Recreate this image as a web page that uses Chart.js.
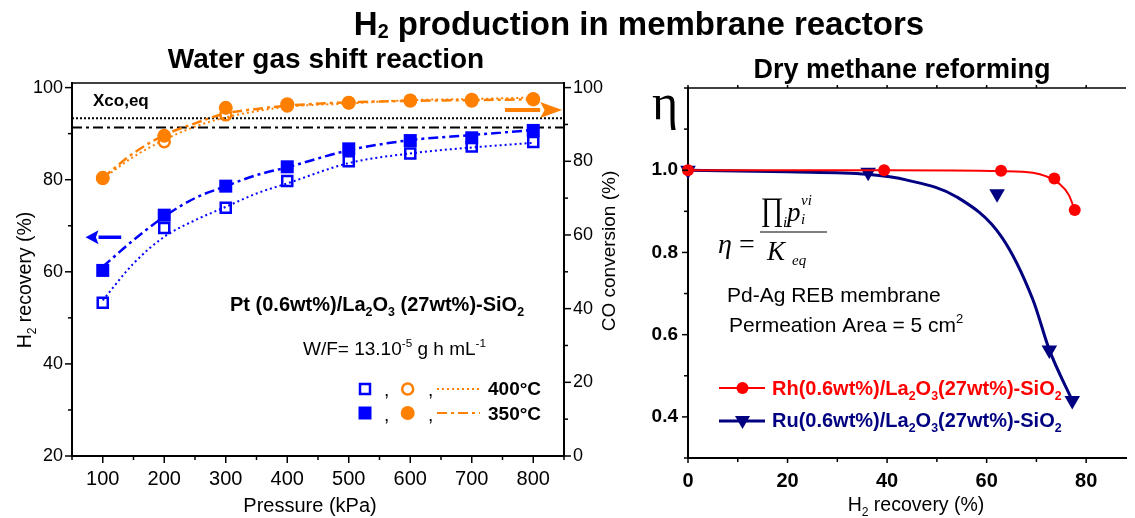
<!DOCTYPE html>
<html>
<head>
<meta charset="utf-8">
<title>H2 production in membrane reactors</title>
<script src="https://cdn.jsdelivr.net/npm/chart.js@4.4.1/dist/chart.umd.min.js"></script>
<style>
  html, body { margin: 0; padding: 0; background: #fff; }
  #page { position: relative; width: 1135px; height: 518px; overflow: hidden; }
  #mainTitle {
    position: absolute; left: 639px; top: 5px; transform: translateX(-50%);
    white-space: nowrap; line-height: 36px;
    font: bold 33px "Liberation Sans", Arial, sans-serif; color: #000;
  }
  #mainTitle sub { font-size: 0.6em; vertical-align: -0.15em; }
  canvas { position: absolute; top: 0; }
  #wgsChart { left: 0; }
  #drmChart { left: 620px; }
</style>
</head>
<body>
<div id="page">
  <canvas id="wgsChart" width="620" height="518"></canvas>
  <canvas id="drmChart" width="515" height="518"></canvas>
  <div id="mainTitle">H<sub>2</sub> production in membrane reactors</div>
</div>
<script>
// ---- Water gas shift: measured points ----
const pressure = [100, 200, 300, 400, 500, 600, 700, 800];
const recovery400 = [53.3, 69.5, 73.9, 79.7, 84.0, 85.7, 87.2, 88.2];
const recovery350 = [60.3, 72.3, 78.6, 82.8, 86.7, 88.5, 89.1, 90.7];
const conversion400 = [75.3, 85.3, 92.6, 95.0, 95.9, 96.6, 96.8, 97.0];
const conversion350 = [75.5, 86.9, 94.5, 95.5, 95.9, 96.4, 96.4, 96.8];

// ---- Water gas shift: fitted trend lines ----
const fitPressure = [100, 150, 200, 250, 300, 350, 400, 500, 600, 700, 800];
const recoveryFit400 = [53.8, 61.8, 67.6, 71.2, 74.1, 77.0, 79.2, 83.6, 85.7, 87.0, 88.0];
const recoveryFit350 = [61.1, 66.9, 72.0, 76.0, 78.6, 81.0, 82.7, 86.4, 88.6, 89.7, 90.8];
const conversionFit400 = [75.3, 81.2, 85.8, 89.4, 91.9, 93.6, 94.8, 95.7, 96.6, 96.9, 97.3];
const conversionFit350 = [75.5, 82.2, 87.1, 90.3, 93.0, 94.2, 95.1, 96.0, 96.4, 96.6, 96.8];

// equilibrium CO conversion
const eqPressure = [50, 850];
const xcoEq400 = [91.7, 91.7];
const xcoEq350 = [89.2, 89.2];

const pressureTicks = [50, 100, 150, 200, 250, 300, 350, 400, 450, 500, 550, 600, 650, 700, 750, 800, 850];
const pressureLabels = [100, 200, 300, 400, 500, 600, 700, 800];
const recoveryTicks = [20, 30, 40, 50, 60, 70, 80, 90, 100];
const recoveryLabels = [20, 40, 60, 80, 100];
const conversionTicks = [0, 10, 20, 30, 40, 50, 60, 70, 80, 90, 100];
const conversionLabels = [0, 20, 40, 60, 80, 100];

// ---- Dry methane reforming ----
const rhRecovery = [0, 39.4, 62.9, 73.6, 77.7];
const rhEta = [1.0, 1.0, 0.999, 0.980, 0.903];
const ruRecovery = [0, 36.2, 62.1, 72.6, 77.2];
const ruEta = [1.0, 0.995, 0.943, 0.563, 0.440];
const rhFitRecovery = [0, 40, 63, 69.3, 72, 74.5, 76.5, 77.7];
const rhFitEta = [1.0, 1.0, 0.998, 0.994, 0.985, 0.968, 0.94, 0.903];
const ruFitRecovery = [0, 20, 36, 44, 54, 63, 69.3, 72.6, 77.2];
const ruFitEta = [1.0, 0.996, 0.99, 0.976, 0.935, 0.838, 0.685, 0.563, 0.44];

const h2Ticks = [0, 10, 20, 30, 40, 50, 60, 70, 80];
const h2Labels = [0, 20, 40, 60, 80];
const etaTicks = [0.3, 0.4, 0.5, 0.6, 0.7, 0.8, 0.9, 1.0, 1.1, 1.2];
const etaLabels = [0.4, 0.6, 0.8, 1.0];

const SANS = '"Liberation Sans", Arial, sans-serif';
const SERIF = '"Liberation Serif", "DejaVu Serif", "Times New Roman", serif';
const BLUE = '#0000ff';
const ORANGE = '#ff8000';
const RED = '#ff0000';
const NAVY = '#000080';
const NONE = 'rgba(0,0,0,0)';

const DASH_DOT = [10, 4, 3, 4];
const DOTTED = [2, 3];

function pts(xs, ys) {
    return xs.map((x, i) => ({ x: x, y: ys[i] }));
}

// split "La_{2}O_{3}" / "10^{-5}" into plain, sub and sup runs
function richParts(str) {
    const out = [];
    const re = /([_^])\{([^}]*)\}/g;
    let last = 0, m;
    while ((m = re.exec(str))) {
        if (m.index > last) out.push({ t: str.slice(last, m.index), s: 0 });
        out.push({ t: m[2], s: m[1] === '_' ? 1 : -1 });
        last = re.lastIndex;
    }
    if (last < str.length) out.push({ t: str.slice(last), s: 0 });
    return out;
}

function drawRich(ctx, str, x, y, size, opts) {
    opts = opts || {};
    const family = opts.family || SANS;
    const font = (k) => `${opts.style || 'normal'} ${opts.weight || 'normal'} ${k}px ${family}`;
    const parts = richParts(str);
    let w = 0;
    parts.forEach(p => {
        ctx.font = font(p.s ? size * 0.62 : size);
        p.w = ctx.measureText(p.t).width;
        w += p.w;
    });
    let cx = opts.align === 'center' ? x - w / 2 : (opts.align === 'right' ? x - w : x);
    ctx.save();
    ctx.fillStyle = opts.color || '#000';
    ctx.textAlign = 'left';
    ctx.textBaseline = 'alphabetic';
    parts.forEach(p => {
        ctx.font = font(p.s ? size * 0.62 : size);
        const dy = p.s === 1 ? size * 0.24 : (p.s === -1 ? -size * 0.42 : 0);
        ctx.fillText(p.t, cx, y + dy);
        cx += p.w;
    });
    ctx.restore();
    return w;
}

function drawRotated(ctx, str, x, y, size, opts) {
    ctx.save();
    ctx.translate(x, y);
    ctx.rotate(-Math.PI / 2);
    drawRich(ctx, str, 0, 0, size, Object.assign({ align: 'center' }, opts));
    ctx.restore();
}

// draw one glyph stretched to fill a box (used for the product sign)
function glyphInBox(ctx, ch, left, top, right, bottom, family) {
    ctx.save();
    ctx.font = `normal normal 100px ${family}`;
    const m = ctx.measureText(ch);
    const gw = m.actualBoundingBoxLeft + m.actualBoundingBoxRight;
    const gh = m.actualBoundingBoxAscent + m.actualBoundingBoxDescent;
    ctx.translate(left, top);
    ctx.scale((right - left) / gw, (bottom - top) / gh);
    ctx.textBaseline = 'alphabetic';
    ctx.textAlign = 'left';
    ctx.fillStyle = '#000';
    ctx.fillText(ch, m.actualBoundingBoxLeft, m.actualBoundingBoxAscent);
    ctx.restore();
}

function arrow(ctx, x0, y0, x1, y1, color, shaft, headLen, headHalf) {
    const dir = Math.sign(x1 - x0);
    ctx.save();
    ctx.strokeStyle = color;
    ctx.fillStyle = color;
    ctx.lineWidth = shaft;
    ctx.beginPath();
    ctx.moveTo(x0, y0);
    ctx.lineTo(x1 - dir * headLen, y1);
    ctx.stroke();
    ctx.beginPath();
    ctx.moveTo(x1, y1);
    ctx.lineTo(x1 - dir * headLen, y1 - headHalf);
    ctx.lineTo(x1 - dir * headLen * 0.8, y1);
    ctx.lineTo(x1 - dir * headLen, y1 + headHalf);
    ctx.closePath();
    ctx.fill();
    ctx.restore();
}

// tick marks: long on labelled values, short in between
function tickMarks(ctx, scale, side, labelled, majorLen, minorLen) {
    ctx.save();
    ctx.strokeStyle = '#000';
    ctx.lineWidth = 1.5;
    scale.ticks.forEach(t => {
        const len = labelled.includes(t.value) ? majorLen : minorLen;
        const p = scale.getPixelForValue(t.value);
        ctx.beginPath();
        if (side === 'bottom') { ctx.moveTo(p, scale.top); ctx.lineTo(p, scale.top + len); }
        if (side === 'top') { ctx.moveTo(p, scale.chart.chartArea.top); ctx.lineTo(p, scale.chart.chartArea.top - len); }
        if (side === 'left') { ctx.moveTo(scale.right, p); ctx.lineTo(scale.right - len, p); }
        if (side === 'right') { ctx.moveTo(scale.left, p); ctx.lineTo(scale.left + len, p); }
        ctx.stroke();
    });
    ctx.restore();
}

function fixedTicks(values) {
    return function(scale) {
        scale.ticks = values.map(v => ({ value: v }));
    };
}

function lineSet(label, data, axis, color, width, dash) {
    return {
        label: label, data: data, yAxisID: axis, showLine: true,
        borderColor: color, borderWidth: width, borderDash: dash || [],
        pointRadius: 0, fill: false, tension: 0.4, cubicInterpolationMode: 'monotone',
        order: 10
    };
}

// ================= Water gas shift chart =================
const wgsDecor = {
    id: 'wgsDecor',
    afterDatasetsDraw(chart) {
        const { ctx, chartArea: a, scales: { x, y, yRight } } = chart;

        // top frame
        ctx.save();
        ctx.strokeStyle = '#000';
        ctx.lineWidth = 1.5;
        ctx.beginPath();
        ctx.moveTo(a.left, a.top);
        ctx.lineTo(a.right, a.top);
        ctx.stroke();
        ctx.restore();

        drawRich(ctx, 'Xco,eq', 93, 106, 17, { weight: 'bold' });

        // axis pointers
        arrow(ctx, x.getPixelForValue(130), y.getPixelForValue(67.5),
              x.getPixelForValue(72), y.getPixelForValue(67.5), BLUE, 3.5, 13, 7);
        arrow(ctx, x.getPixelForValue(754), yRight.getPixelForValue(93.9),
              x.getPixelForValue(847), yRight.getPixelForValue(93.9), ORANGE, 4, 22, 8);

        drawRich(ctx, 'Pt (0.6wt%)/La_{2}O_{3} (27wt%)-SiO_{2}', 230, 311, 20, { weight: 'bold' });
        drawRich(ctx, 'W/F= 13.10^{-5} g h mL^{-1}', 303, 355, 19);

        // legend rows
        const rows = [
            { cy: 389, base: 395, fill: false, dash: DOTTED, text: '400°C' },
            { cy: 413, base: 420, fill: true, dash: DASH_DOT, text: '350°C' }
        ];
        rows.forEach(r => {
            ctx.save();
            if (r.fill) {
                ctx.fillStyle = BLUE;
                ctx.fillRect(365 - 6.5, r.cy - 6.5, 13, 13);
                ctx.fillStyle = ORANGE;
                ctx.beginPath();
                ctx.arc(407.7, r.cy, 7, 0, Math.PI * 2);
                ctx.fill();
            } else {
                ctx.lineWidth = 2.5;
                ctx.strokeStyle = BLUE;
                ctx.strokeRect(365 - 5, r.cy - 5, 10, 10);
                ctx.strokeStyle = ORANGE;
                ctx.beginPath();
                ctx.arc(407.7, r.cy, 5.5, 0, Math.PI * 2);
                ctx.stroke();
            }
            ctx.strokeStyle = ORANGE;
            ctx.lineWidth = 2;
            ctx.setLineDash(r.dash);
            ctx.beginPath();
            ctx.moveTo(437, r.cy);
            ctx.lineTo(480, r.cy);
            ctx.stroke();
            ctx.restore();
            drawRich(ctx, ',', 384, r.base + 1, 19);
            drawRich(ctx, ',', 428, r.base + 1, 19);
            drawRich(ctx, r.text, 488, r.base, 19, { weight: 'bold' });
        });

        // titles
        drawRich(ctx, 'Water gas shift reaction', 326, 68, 28, { weight: 'bold', align: 'center' });
        drawRich(ctx, 'Pressure (kPa)', 310, 512, 20, { align: 'center' });
        drawRotated(ctx, 'H_{2} recovery (%)', 31, 280, 19.5);
        drawRotated(ctx, 'CO conversion (%)', 615, 251, 19);
    },
    afterDraw(chart) {
        const { ctx, scales: { x, y, yRight } } = chart;
        tickMarks(ctx, x, 'bottom', pressureLabels, 7, 4);
        tickMarks(ctx, y, 'left', recoveryLabels, 7, 4);
        tickMarks(ctx, yRight, 'right', conversionLabels, 7, 4);
    }
};

const wgsChart = new Chart(document.getElementById('wgsChart'), {
    type: 'scatter',
    data: {
        datasets: [
            {
                label: 'H2 recovery 350 °C', data: pts(pressure, recovery350), yAxisID: 'y',
                pointStyle: 'rect', pointRadius: 9.2, backgroundColor: BLUE, borderColor: BLUE, borderWidth: 0, order: 1
            },
            {
                label: 'H2 recovery 400 °C', data: pts(pressure, recovery400), yAxisID: 'y',
                pointStyle: 'rect', pointRadius: 7.1, backgroundColor: NONE, borderColor: BLUE, borderWidth: 2.5, order: 2
            },
            {
                label: 'CO conversion 350 °C', data: pts(pressure, conversion350), yAxisID: 'yRight',
                pointStyle: 'circle', pointRadius: 7, backgroundColor: ORANGE, borderColor: ORANGE, borderWidth: 0, order: 3
            },
            {
                label: 'CO conversion 400 °C', data: pts(pressure, conversion400), yAxisID: 'yRight',
                pointStyle: 'circle', pointRadius: 5.5, backgroundColor: NONE, borderColor: ORANGE, borderWidth: 2.5, order: 4
            },
            lineSet('recovery fit 350', pts(fitPressure, recoveryFit350), 'y', BLUE, 2.5, DASH_DOT),
            lineSet('recovery fit 400', pts(fitPressure, recoveryFit400), 'y', BLUE, 2, DOTTED),
            lineSet('conversion fit 350', pts(fitPressure, conversionFit350), 'yRight', ORANGE, 2.5, DASH_DOT),
            lineSet('conversion fit 400', pts(fitPressure, conversionFit400), 'yRight', ORANGE, 2, DOTTED),
            lineSet('Xco,eq 400', pts(eqPressure, xcoEq400), 'yRight', '#000', 2, [2, 2]),
            lineSet('Xco,eq 350', pts(eqPressure, xcoEq350), 'yRight', '#000', 2, [10, 4, 3, 4])
        ]
    },
    options: {
        responsive: false,
        animation: false,
        events: [],
        layout: { padding: { top: 83, left: 0, right: 0, bottom: 0 } },
        plugins: { legend: { display: false }, tooltip: { enabled: false } },
        scales: {
            x: {
                type: 'linear', position: 'bottom', min: 50, max: 850,
                afterBuildTicks: fixedTicks(pressureTicks),
                afterFit: s => { s.height = 62; },
                grid: { display: false, drawTicks: false },
                border: { color: '#000', width: 2 },
                ticks: {
                    autoSkip: false, maxRotation: 0, padding: 11, color: '#000',
                    font: { family: SANS, size: 20 },
                    callback: v => pressureLabels.includes(v) ? String(v) : ''
                }
            },
            y: {
                type: 'linear', position: 'left', min: 20, max: 101,
                afterBuildTicks: fixedTicks(recoveryTicks),
                afterFit: s => { s.width = 72; },
                grid: { display: false, drawTicks: false },
                border: { color: '#000', width: 2 },
                ticks: {
                    autoSkip: false, padding: 9, color: '#000',
                    font: { family: SANS, size: 18 },
                    callback: v => recoveryLabels.includes(v) ? String(v) : ''
                }
            },
            yRight: {
                type: 'linear', position: 'right', min: 0, max: 101.25,
                afterBuildTicks: fixedTicks(conversionTicks),
                afterFit: s => { s.width = 56; },
                grid: { display: false, drawTicks: false },
                border: { color: '#000', width: 2 },
                ticks: {
                    autoSkip: false, padding: 9, color: '#000',
                    font: { family: SANS, size: 18 },
                    callback: v => conversionLabels.includes(v) ? String(v) : ''
                }
            }
        }
    },
    plugins: [wgsDecor]
});

// ================= Dry methane reforming chart =================
const drmDecor = {
    id: 'drmDecor',
    afterDatasetsDraw(chart) {
        const { ctx, chartArea: a } = chart;

        ctx.save();
        ctx.strokeStyle = '#000';
        ctx.lineWidth = 1.5;
        ctx.beginPath();
        ctx.moveTo(a.left, a.top);
        ctx.lineTo(a.right, a.top);
        ctx.stroke();
        ctx.restore();

        // efficiency symbol and its definition
        drawRich(ctx, 'η', 32, 119, 50, { family: SERIF });
        drawRich(ctx, 'η', 98, 253, 28, { family: SERIF, style: 'italic' });
        drawRich(ctx, '=', 119, 253, 28, { family: SERIF });
        glyphInBox(ctx, '∏', 142, 198, 162, 227, SERIF);
        drawRich(ctx, 'i', 163, 227, 15, { family: SERIF, style: 'italic' });
        drawRich(ctx, 'p', 167, 221, 27, { family: SERIF, style: 'italic' });
        drawRich(ctx, 'vi', 181, 205, 15, { family: SERIF, style: 'italic' });
        drawRich(ctx, 'i', 181, 224, 15, { family: SERIF, style: 'italic' });
        ctx.save();
        ctx.strokeStyle = '#000';
        ctx.lineWidth = 1.2;
        ctx.beginPath();
        ctx.moveTo(140, 232);
        ctx.lineTo(207, 232);
        ctx.stroke();
        ctx.restore();
        drawRich(ctx, 'K', 147, 260, 27, { family: SERIF, style: 'italic' });
        drawRich(ctx, 'eq', 172, 265, 15, { family: SERIF, style: 'italic' });

        drawRich(ctx, 'Pd-Ag REB membrane', 107, 302, 21);
        drawRich(ctx, 'Permeation Area = 5 cm^{2}', 109, 332, 21);

        // legend
        const rows = [
            { cy: 388, base: 395, color: RED, text: 'Rh(0.6wt%)/La_{2}O_{3}(27wt%)-SiO_{2}', width: 2 },
            { cy: 421, base: 427, color: NAVY, text: 'Ru(0.6wt%)/La_{2}O_{3}(27wt%)-SiO_{2}', width: 3 }
        ];
        rows.forEach((r, i) => {
            ctx.save();
            ctx.strokeStyle = r.color;
            ctx.fillStyle = r.color;
            ctx.lineWidth = r.width;
            ctx.beginPath();
            ctx.moveTo(99, r.cy);
            ctx.lineTo(145, r.cy);
            ctx.stroke();
            ctx.beginPath();
            if (i === 0) {
                ctx.arc(122.5, r.cy, 6, 0, Math.PI * 2);
            } else {
                ctx.moveTo(122.5 - 7.5, r.cy - 5);
                ctx.lineTo(122.5 + 7.5, r.cy - 5);
                ctx.lineTo(122.5, r.cy + 8);
                ctx.closePath();
            }
            ctx.fill();
            ctx.restore();
            drawRich(ctx, r.text, 152, r.base, 20, { weight: 'bold', color: r.color });
        });

        drawRich(ctx, 'Dry methane reforming', 282, 78, 27, { weight: 'bold', align: 'center' });
        drawRich(ctx, 'H_{2} recovery (%)', 296, 511, 19.5, { align: 'center' });
    },
    afterDraw(chart) {
        const { ctx, scales: { x, y } } = chart;
        tickMarks(ctx, x, 'bottom', h2Labels, 5, 4);
        tickMarks(ctx, x, 'top', h2Labels, 3, 3);
        tickMarks(ctx, y, 'left', etaLabels, 6, 4);
    }
};

const drmChart = new Chart(document.getElementById('drmChart'), {
    type: 'scatter',
    data: {
        datasets: [
            {
                label: 'Rh', data: pts(rhRecovery, rhEta), pointStyle: 'circle', pointRadius: 6,
                backgroundColor: RED, borderColor: RED, borderWidth: 0, clip: false, order: 1
            },
            Object.assign(lineSet('Rh fit', pts(rhFitRecovery, rhFitEta), 'y', RED, 2), { order: 2 }),
            {
                label: 'Ru', data: pts(ruRecovery, ruEta), pointStyle: 'triangle', pointRotation: 180, pointRadius: 9,
                backgroundColor: NAVY, borderColor: NAVY, borderWidth: 0, clip: false, order: 3
            },
            Object.assign(lineSet('Ru fit', pts(ruFitRecovery, ruFitEta), 'y', NAVY, 3), { order: 4 })
        ]
    },
    options: {
        responsive: false,
        animation: false,
        events: [],
        layout: { padding: { top: 88, left: 0, right: 0, bottom: 0 } },
        plugins: { legend: { display: false }, tooltip: { enabled: false } },
        scales: {
            x: {
                type: 'linear', position: 'bottom', min: 0, max: 88,
                afterBuildTicks: fixedTicks(h2Ticks),
                afterFit: s => { s.height = 60; },
                grid: { display: false, drawTicks: false },
                border: { color: '#000', width: 2 },
                ticks: {
                    autoSkip: false, maxRotation: 0, padding: 11, color: '#000',
                    font: { family: SANS, size: 20, weight: 'bold' },
                    callback: v => h2Labels.includes(v) ? String(v) : ''
                }
            },
            y: {
                type: 'linear', position: 'left', min: 0.3, max: 1.2,
                afterBuildTicks: fixedTicks(etaTicks),
                afterFit: s => { s.width = 68; },
                grid: { display: false, drawTicks: false },
                border: { color: '#000', width: 2 },
                ticks: {
                    autoSkip: false, padding: 10, color: '#000',
                    font: { family: SANS, size: 19, weight: 'bold' },
                    callback: v => etaLabels.includes(v) ? v.toFixed(1) : ''
                }
            }
        }
    },
    plugins: [drmDecor]
});
</script>
</body>
</html>
